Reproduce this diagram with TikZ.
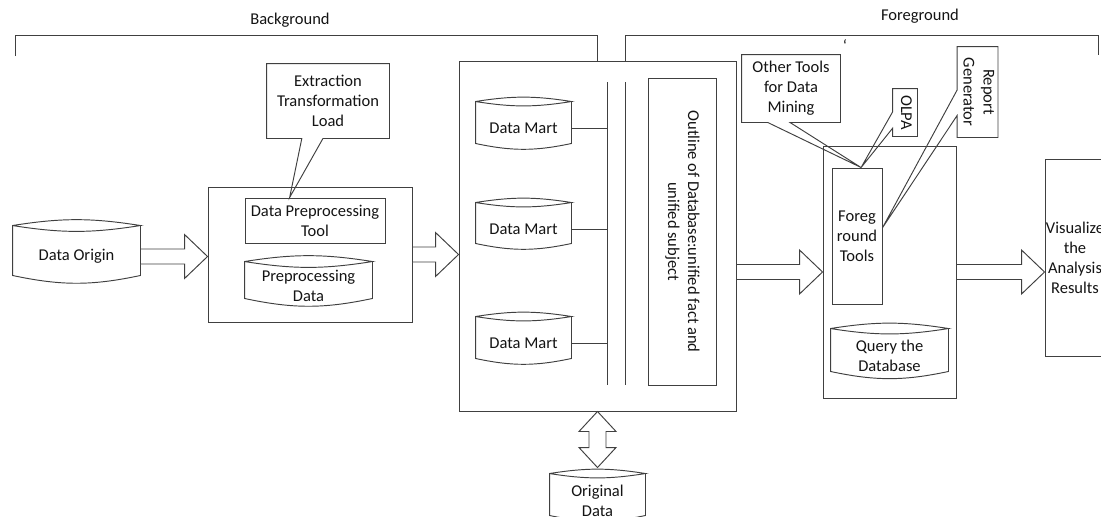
\documentclass[tikz,border=0pt]{standalone}
\usepackage{fontspec}
\setmainfont{Carlito}
\usepackage{graphicx}
\usetikzlibrary{calc}
\newcommand\rottext[1]{\rotatebox{-90}{\begin{tabular}{@{}c@{}}#1\end{tabular}}}
\newcommand\harrow[2]{\draw[barrow] let \p1=(#1), \p2=(#2) in
  (\x1,\y1+7.5pt) -- (\x2-23pt,\y1+7.5pt) -- (\x2-23pt,\y1+22pt) -- (\x2,\y1)
  -- (\x2-23pt,\y1-22pt) -- (\x2-23pt,\y1-7.5pt) -- (\x1,\y1-7.5pt) -- cycle;}
\begin{document}
\begin{tikzpicture}[x=1pt,y=-1pt,line width=0.95pt,color=black!75,
  every node/.style={font=\fontsize{16.5}{20}\selectfont, inner sep=0pt, align=center, text=black!92},
  box/.style={draw, rectangle},
  dbbody/.style={rectangle},
  barrow/.style={draw, fill=white, line join=miter},
  lbl/.style={font=\fontsize{16.5}{20}\selectfont}]
\useasboundingbox (0,0) rectangle (1101,517);
\clip (0,0) rectangle (1101,517);

% labels of the two brackets
\node[lbl] (bglabel) at (290,20) {Background};
\node[lbl] (fglabel) at (920,16) {Foreground};
\node[lbl] (tick) at (845,46) {`};

% main blocks
\node[dbbody, minimum width=127, minimum height=51] (origin) at (76.5,256.5) {Data Origin};
\node[box, minimum width=204, minimum height=135] (ppbox) at (310,254.5) {};
\node[box, minimum width=140, minimum height=45] (dpt) at (315,220.5) {Data Preprocessing\\Tool};
\node[dbbody, minimum width=127, minimum height=38] (ppdata) at (308.5,286) {Preprocessing\\Data};

\node[box, minimum width=277, minimum height=350] (mid) at (597.5,236) {};
\node[dbbody, minimum width=95, minimum height=43] (dm1) at (523.5,128.5) {Data Mart};
\node[dbbody, minimum width=95, minimum height=42] (dm2) at (523.5,229) {Data Mart};
\node[dbbody, minimum width=95, minimum height=43] (dm3) at (523.5,343.5) {Data Mart};
\node[box, minimum width=68, minimum height=307] (outline) at (682,231.5)
  {\rottext{Outline of Database:unified fact and\\unified subject}};
\coordinate (bus1t) at (607,82);
\coordinate (bus1b) at (607,385);
\coordinate (bus2t) at (625,82);
\coordinate (bus2b) at (625,385);

\node[box, minimum width=133, minimum height=252] (fg) at (889.5,272) {};
\node[box, minimum width=50, minimum height=136] (ft) at (857,236) {Foreg\\round\\Tools};
\node[dbbody, minimum width=117, minimum height=44] (query) at (889.5,356) {Query the\\Database};

\node[box, minimum width=60, minimum height=197] (vis) at (1075,257.5) {Visualize\\the\\Analysis\\Results};

\node[dbbody, minimum width=95, minimum height=43] (orig) at (597.5,500.5) {Original\\Data};

% callouts (text only, outline drawn below)
\node[minimum width=122, minimum height=74] (etl) at (328,101) {Extraction\\Transformation\\Load};
\node[minimum width=98, minimum height=67] (other) at (791,88.5) {Other Tools\\for Data\\Mining};
\node[minimum width=24, minimum height=47] (olpa) at (905,112.5) {\rottext{OLPA}};
\node[minimum width=37, minimum height=90] (rep) at (977.5,92) {\rottext{Report\\Generator}};

% cylinders
\foreach \n in {origin,ppdata,dm1,dm2,dm3,query,orig}{
  \draw ([yshift=5pt]\n.north west) to[bend left=9] ([yshift=5pt]\n.north east)
        to[bend left=9] ([yshift=5pt]\n.north west)
        -- ([yshift=7pt]\n.south west) to[bend right=12] ([yshift=7pt]\n.south east)
        -- ([yshift=5pt]\n.north east);
}

% brackets
\coordinate (bgl) at (15,56);
\coordinate (fgl) at (625,61);
\coordinate (fgr) at (1098,55);
\draw (bgl) -- (15,35) -- (597.5,35) -- (mid.north);
\draw (fgl) -- (625,35) -- (1098,35) -- (fgr);

% bus lines
\draw (bus1t) -- (bus1b);
\draw (bus2t) -- (bus2b);
\foreach \n in {dm1,dm2,dm3}{ \draw (\n.east) -- (\n.east -| bus1t); }

% callout outlines
\coordinate (tipA) at ($(dpt.north west)!0.32!(dpt.north east)$);
\coordinate (tipB) at ($(ft.north west)!0.58!(ft.north east)$);
\coordinate (tipC) at ($(ft.north east)!0.44!(ft.south east)$);
\draw (etl.south west) -- ($(etl.south west)!0.287!(etl.south east)$) -- (tipA)
  -- ($(etl.south west)!0.459!(etl.south east)$) -- (etl.south east)
  -- (etl.north east) -- (etl.north west) -- cycle;
\draw (other.south west) -- ($(other.south west)!0.265!(other.south east)$) -- (tipB)
  -- ($(other.south west)!0.49!(other.south east)$) -- (other.south east)
  -- (other.north east) -- (other.north west) -- cycle;
\draw (olpa.north west) -- ($(olpa.north west)!0.49!(olpa.south west)$) -- (tipB)
  -- ($(olpa.north west)!0.83!(olpa.south west)$) -- (olpa.south west)
  -- (olpa.south east) -- (olpa.north east) -- cycle;
\draw (rep.north west) -- ($(rep.north west)!0.48!(rep.south west)$) -- (tipC)
  -- ($(rep.north west)!0.76!(rep.south west)$) -- (rep.south west)
  -- (rep.south east) -- (rep.north east) -- cycle;

% block arrows
\harrow{origin.east}{ppbox.west}
\harrow{ppbox.east}{mid.west |- ppbox.east}
\harrow{mid.east |- fg.west}{fg.west}
\harrow{fg.east}{vis.west |- fg.east}
\draw[barrow] let \p1=(mid.south), \p2=([yshift=11pt]orig.north) in
  (\x1,\y1) -- (\x1+18.5pt,\y1-20pt) -- (\x1+8.5pt,\y1-20pt) -- (\x1+8.5pt,\y2+20pt)
  -- (\x1+18.5pt,\y2+20pt) -- (\x1,\y2) -- (\x1-18.5pt,\y2+20pt) -- (\x1-8.5pt,\y2+20pt)
  -- (\x1-8.5pt,\y1-20pt) -- (\x1-18.5pt,\y1-20pt) -- cycle;
\end{tikzpicture}
\end{document}
